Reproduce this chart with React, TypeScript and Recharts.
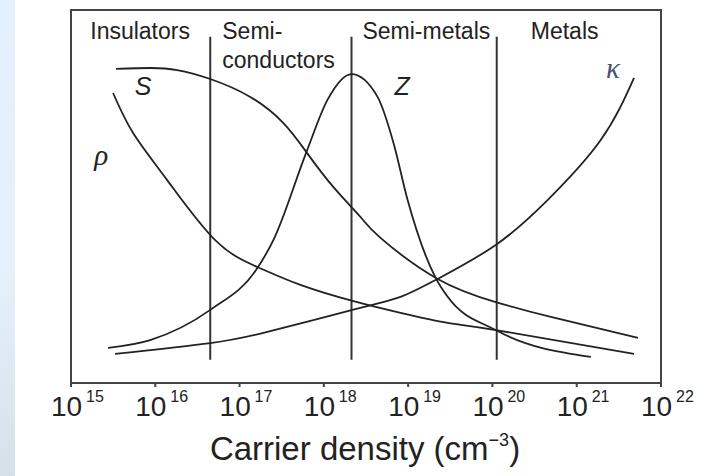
import React from "react";
import { ComposedChart, Line, XAxis, YAxis, ReferenceLine, ReferenceArea, ReferenceDot } from "recharts";

// x = log10(carrier density / cm^-3), y = relative magnitude (arbitrary units 0-100)
const decades = [15, 16, 17, 18, 19, 20, 21, 22];

const seebeck = [
  { n: 15.535, v: 84.2 },
  { n: 15.939, v: 84.45 },
  { n: 16.26, v: 83.9 },
  { n: 16.652, v: 81.5 },
  { n: 17.127, v: 76.7 },
  { n: 17.52, v: 69.7 },
  { n: 17.793, v: 61.9 },
  { n: 18.114, v: 52.5 },
  { n: 18.435, v: 44.5 },
  { n: 18.672, v: 38.9 },
  { n: 19.35, v: 27.9 },
  { n: 20.039, v: 21.7 },
  { n: 20.693, v: 17.7 },
  { n: 21.727, v: 12.1 },
];

const resistivity = [
  { n: 15.499, v: 77.75 },
  { n: 15.737, v: 67.0 },
  { n: 16.141, v: 54.4 },
  { n: 16.711, v: 38.3 },
  { n: 17.211, v: 31.1 },
  { n: 17.722, v: 26.3 },
  { n: 18.34, v: 22.0 },
  { n: 18.91, v: 18.8 },
  { n: 19.469, v: 16.1 },
  { n: 20.039, v: 14.2 },
  { n: 21.68, v: 7.8 },
];

const conductivity = [
  { n: 15.523, v: 7.8 },
  { n: 16.652, v: 10.7 },
  { n: 17.329, v: 13.7 },
  { n: 18.34, v: 19.6 },
  { n: 18.91, v: 23.1 },
  { n: 19.35, v: 27.9 },
  { n: 20.039, v: 37.0 },
  { n: 20.657, v: 49.1 },
  { n: 21.287, v: 65.2 },
  { n: 21.68, v: 81.8 },
];

const figureOfMerit = [
  { n: 15.44, v: 9.4 },
  { n: 15.939, v: 11.5 },
  { n: 16.652, v: 19.6 },
  { n: 17.211, v: 30.8 },
  { n: 17.401, v: 38.3 },
  { n: 17.793, v: 61.9 },
  { n: 18.043, v: 75.9 },
  { n: 18.328, v: 82.8 },
  { n: 18.637, v: 76.7 },
  { n: 18.827, v: 64.3 },
  { n: 18.993, v: 49.1 },
  { n: 19.326, v: 28.2 },
  { n: 19.469, v: 23.1 },
  { n: 20.039, v: 14.2 },
  { n: 21.168, v: 7.0 },
];

const boundaries = [16.652, 18.328, 20.051];

const regionLabels = [
  { text: "Insulators", n: 15.82, v: 92.2, anchor: "middle" },
  { text: "Semi-", n: 16.795, v: 92.2, anchor: "start" },
  { text: "conductors", n: 16.795, v: 84.45, anchor: "start" },
  { text: "Semi-metals", n: 18.458, v: 92.2, anchor: "start" },
  { text: "Metals", n: 20.455, v: 92.2, anchor: "start" },
];

const curveLabels = [
  { text: "S", n: 15.856, v: 77.2, serif: false },
  { text: "Z", n: 18.928, v: 77.2, serif: false },
  { text: "ρ", n: 15.357, v: 58.4, serif: true },
  { text: "κ", n: 21.43, v: 81.8, serif: true },
];

const SANS = "'Liberation Sans', Arial, Helvetica, sans-serif";
const SERIF = "'Liberation Serif', 'Times New Roman', serif";
const INK = "#222";

function DecadeTick(props: any) {
  const { x, y, payload } = props;
  return (
    <g>
      <text x={x - 20} y={y + 27} fontSize={28} fontFamily={SANS} fill={INK}>10</text>
      <text x={x + 15} y={y + 13} fontSize={16} fontFamily={SANS} fill={INK}>{payload.value}</text>
    </g>
  );
}

function AxisTitle(props: any) {
  const { viewBox } = props;
  const cx = viewBox.x + viewBox.width / 2;
  return (
    <text x={cx - 1} y={460} textAnchor="middle" fontSize={33} fontFamily={SANS} fill={INK}>
      Carrier density (cm
      <tspan fontSize={18} dy={-14}>−3</tspan>
      <tspan dy={14}>)</tspan>
    </text>
  );
}

export default function App() {
  return (
    <div style={{ position: "absolute", left: 0, top: 0, width: 709, height: 476, background: "#fff" }}>
      <div
        style={{
          position: "absolute",
          left: 0,
          top: 0,
          width: 15,
          height: 476,
          background: "linear-gradient(#e3f0fd, #e5f1fc 55%, #d6e0e9)",
        }}
      />
      <ComposedChart width={709} height={476} margin={{ top: 10, right: 48, left: 71, bottom: 33 }}>
        <XAxis
          dataKey="n"
          type="number"
          domain={[15, 22]}
          ticks={decades}
          allowDataOverflow
          height={60}
          axisLine={{ stroke: "#444", strokeWidth: 2 }}
          tickLine={{ stroke: "#444", strokeWidth: 2 }}
          tickSize={4}
          tick={<DecadeTick />}
          label={<AxisTitle />}
        />
        <YAxis type="number" domain={[0, 100]} hide />
        <ReferenceArea x1={15} x2={22} y1={0} y2={100} fill="none" stroke="#444" strokeWidth={2} />
        {boundaries.map((b) => (
          <ReferenceLine
            key={b}
            segment={[{ x: b, y: 6.2 }, { x: b, y: 92.8 }]}
            stroke="#333"
            strokeWidth={2}
          />
        ))}
        <Line data={seebeck} dataKey="v" type="natural" dot={false} stroke={INK} strokeWidth={1.8} isAnimationActive={false} />
        <Line data={resistivity} dataKey="v" type="natural" dot={false} stroke={INK} strokeWidth={1.8} isAnimationActive={false} />
        <Line data={conductivity} dataKey="v" type="natural" dot={false} stroke={INK} strokeWidth={1.8} isAnimationActive={false} />
        <Line data={figureOfMerit} dataKey="v" type="monotone" dot={false} stroke={INK} strokeWidth={1.8} isAnimationActive={false} />
        {regionLabels.map((l) => (
          <ReferenceDot
            key={l.text}
            x={l.n}
            y={l.v}
            r={1}
            ifOverflow="visible"
            shape={(p: any) => (
              <text x={p.cx} y={p.cy} textAnchor={l.anchor} fontSize={23} fontFamily={SANS} fill={INK}>
                {l.text}
              </text>
            )}
          />
        ))}
        {curveLabels.map((l) => (
          <ReferenceDot
            key={l.text}
            x={l.n}
            y={l.v}
            r={1}
            ifOverflow="visible"
            shape={(p: any) => (
              <text
                x={p.cx}
                y={p.cy}
                textAnchor="middle"
                fontSize={l.serif ? 29 : 25}
                fontStyle="italic"
                fontFamily={l.serif ? SERIF : SANS}
                fill={l.text === "κ" ? "#47526e" : INK}
              >
                {l.text}
              </text>
            )}
          />
        ))}
      </ComposedChart>
    </div>
  );
}
